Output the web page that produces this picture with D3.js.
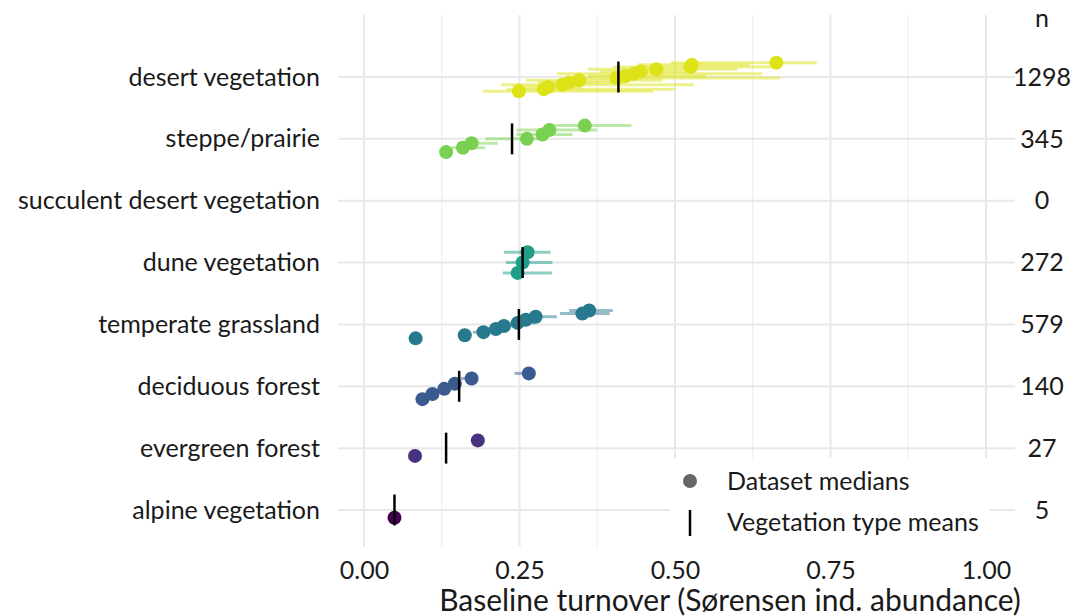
<!DOCTYPE html>
<html>
<head>
<meta charset="utf-8">
<script src="https://cdn.jsdelivr.net/npm/d3@7"></script>
<style>
  body { margin: 0; background: #fff; }
  svg { font-family: Lato, "Open Sans", sans-serif; }
</style>
</head>
<body>
<svg id="plot"></svg>
<script>
const width = 1079;
const height = 616;
const fontSize = 25;
const titleSize = 30;

// categories, bottom to top
const categories = ["alpine vegetation", "evergreen forest", "deciduous forest", "temperate grassland",
    "dune vegetation", "succulent desert vegetation", "steppe/prairie", "desert vegetation"];
const nCounts = [5, 27, 140, 579, 272, 0, 345, 1298];
const catColors = ["#440154", "#46327e", "#3b5a90", "#27798d", "#1f9e89", "#7ad151", "#7ad151", "#dde318"];
const meanValues = [0.049, 0.132, 0.153, 0.249, 0.255, null, 0.238, 0.409];

// dataset medians: [median, lower, upper], in dodge order
const medAlpine = [[0.049, 0.047, 0.051], [null, null, null]];
const medEvergreen = [[0.082, 0.080, 0.084], [0.183, 0.181, 0.185]];
const medDeciduous = [[0.094, 0.092, 0.096], [0.110, 0.108, 0.112], [0.129, 0.127, 0.131],
    [0.146, 0.143, 0.150], [0.173, 0.155, 0.180], [0.265, 0.242, 0.268]];
const medTemperate = [[0.083, 0.078, 0.090], [0.162, 0.160, 0.165], [0.192, 0.175, 0.215],
    [0.212, 0.200, 0.225], [0.225, 0.215, 0.240], [0.247, 0.235, 0.275], [0.260, 0.245, 0.280],
    [0.276, 0.260, 0.310], [0.351, 0.315, 0.395], [0.362, 0.330, 0.400]];
const medDune = [[0.247, 0.223, 0.302], [0.255, 0.228, 0.303], [0.263, 0.225, 0.300]];
const medSucculent = [];
const medSteppe = [[0.132, 0.125, 0.140], [0.159, 0.140, 0.195], [0.173, 0.150, 0.215],
    [0.262, 0.195, 0.285], [0.287, 0.245, 0.335], [0.298, 0.245, 0.375], [0.355, 0.300, 0.430]];
const medDesert = [[0.249, 0.191, 0.465], [0.289, 0.230, 0.500], [0.296, 0.240, 0.350],
    [0.319, 0.220, 0.530], [0.330, 0.280, 0.420], [0.346, 0.260, 0.480], [0.406, 0.325, 0.669],
    [0.421, 0.360, 0.550], [0.434, 0.310, 0.640], [0.445, 0.380, 0.520], [0.470, 0.360, 0.600],
    [0.525, 0.400, 0.660], [0.527, 0.440, 0.620], [0.663, 0.493, 0.728]];
const medians = [medAlpine, medEvergreen, medDeciduous, medTemperate, medDune, medSucculent, medSteppe, medDesert];

const xTicks = [0, 0.25, 0.5, 0.75, 1];
const xMinor = [0.125, 0.375, 0.625, 0.875];

const svg = d3.select('#plot').attr('width', width).attr('height', height);

var x = d3.scaleLinear()
    .domain([0, 1])
    .range([364, 986]);

var y = d3.scalePoint()
    .domain(categories)
    .range([510, 77]);

const step = y.step();
const dodgeW = step * 0.5;
const panelLeft = 338, panelRight = 1015, panelTop = 15, panelBottom = 547;

// grid
const grid = svg.append('g');
grid.selectAll('.minor').data(xMinor).enter().append('line')
    .attr('x1', d => x(d)).attr('x2', d => x(d))
    .attr('y1', panelTop).attr('y2', panelBottom)
    .attr('stroke', '#ebebeb').attr('stroke-width', 1);
grid.selectAll('.major').data(xTicks).enter().append('line')
    .attr('x1', d => x(d)).attr('x2', d => x(d))
    .attr('y1', panelTop).attr('y2', panelBottom)
    .attr('stroke', '#e8e8e8').attr('stroke-width', 2);
grid.selectAll('.hgrid').data(categories).enter().append('line')
    .attr('x1', panelLeft).attr('x2', panelRight)
    .attr('y1', d => y(d)).attr('y2', d => y(d))
    .attr('stroke', '#e8e8e8').attr('stroke-width', 2);

function dodgeY(cat, i, n) {
    return y(cat) + dodgeW / 2 - dodgeW / n * (i + 0.5);
}

// error bars first, then points and means on top
categories.forEach((cat, ci) => {
    const rows = medians[ci];
    const g = svg.append('g');
    rows.forEach((r, i) => {
        if (r[0] == null) return;
        g.append('line')
            .attr('x1', x(r[1])).attr('x2', x(r[2]))
            .attr('y1', dodgeY(cat, i, rows.length)).attr('y2', dodgeY(cat, i, rows.length))
            .attr('stroke', catColors[ci]).attr('stroke-opacity', 0.5).attr('stroke-width', 3);
    });
});
categories.forEach((cat, ci) => {
    const rows = medians[ci];
    const g = svg.append('g');
    rows.forEach((r, i) => {
        if (r[0] == null) return;
        g.append('circle')
            .attr('cx', x(r[0])).attr('cy', dodgeY(cat, i, rows.length))
            .attr('r', 7)
            .attr('fill', catColors[ci]);
    });
    if (meanValues[ci] != null) {
        g.append('line')
            .attr('x1', x(meanValues[ci])).attr('x2', x(meanValues[ci]))
            .attr('y1', y(cat) - dodgeW / 2).attr('y2', y(cat) + dodgeW / 2)
            .attr('stroke', '#000').attr('stroke-width', 2.5);
    }
});

// axes
const yAxis = svg.append('g')
    .attr('transform', 'translate(' + panelLeft + ',0)')
    .call(d3.axisLeft(y).tickSize(0).tickPadding(18));
yAxis.select('.domain').remove();
yAxis.selectAll('text').attr('font-size', fontSize).attr('fill', '#1a1a1a').attr('font-family', 'Lato');

const xAxis = svg.append('g')
    .attr('transform', 'translate(0,' + panelBottom + ')')
    .call(d3.axisBottom(x).tickValues(xTicks).tickFormat(d3.format('.2f')).tickSize(0).tickPadding(14));
xAxis.select('.domain').remove();
xAxis.selectAll('text').attr('font-size', fontSize).attr('fill', '#1a1a1a').attr('font-family', 'Lato');

svg.append('text')
    .attr('x', 730).attr('y', 611)
    .attr('text-anchor', 'middle')
    .attr('font-size', titleSize).attr('fill', '#1a1a1a')
    .text('Baseline turnover (Sørensen ind. abundance)');

// n column
svg.append('text')
    .attr('x', 1042).attr('y', y(categories[categories.length - 1]) - step + 3)
    .attr('dy', '0.35em')
    .attr('text-anchor', 'middle').attr('font-size', fontSize).attr('fill', '#1a1a1a')
    .text('n');
svg.selectAll('.ncount').data(categories).enter().append('text')
    .attr('x', 1042).attr('y', d => y(d))
    .attr('dy', '0.35em')
    .attr('text-anchor', 'middle').attr('font-size', fontSize).attr('fill', '#1a1a1a')
    .text((d, i) => nCounts[i]);

// legend
const lg = svg.append('g');
lg.append('rect').attr('x', 670).attr('y', 458).attr('width', 320).attr('height', 92).attr('fill', '#fff');
lg.append('circle').attr('cx', 690).attr('cy', 481).attr('r', 7).attr('fill', '#666');
lg.append('line').attr('x1', 690).attr('x2', 690).attr('y1', 510).attr('y2', 536)
    .attr('stroke', '#000').attr('stroke-width', 2.5);
lg.append('text').attr('x', 727).attr('y', 481).attr('dy', '0.35em')
    .attr('font-size', fontSize).attr('fill', '#1a1a1a').text('Dataset medians');
lg.append('text').attr('x', 727).attr('y', 522).attr('dy', '0.35em')
    .attr('font-size', fontSize).attr('fill', '#1a1a1a').text('Vegetation type means');
</script>
</body>
</html>
